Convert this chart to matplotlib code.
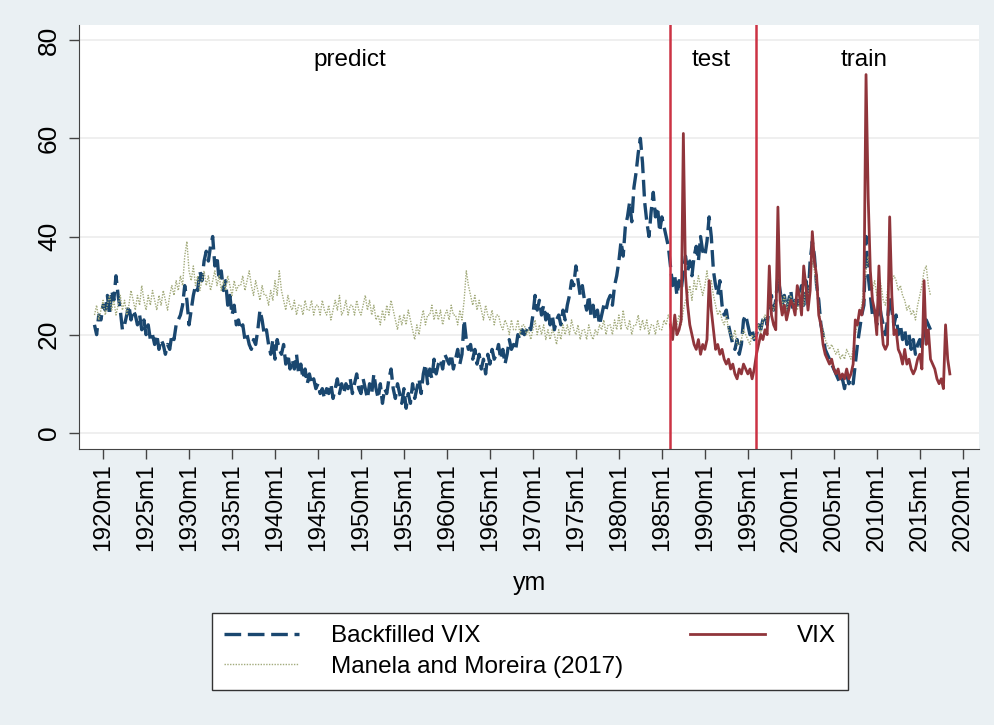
import numpy as np
import matplotlib
matplotlib.use("Agg")
import matplotlib.pyplot as plt

plt.rcParams['font.family'] = ['Liberation Sans', 'DejaVu Sans']

# quarterly readings
bf_start = 1919.0
bf_vals = [
    22, 20, 24, 23,  26, 25, 28, 24,  29, 27, 32, 28,  25, 21, 22, 24,  26, 23, 25, 24,   # 1919-1923
    22, 24, 21, 23,  20, 22, 19, 20,  18, 20, 17, 19,  18, 16, 18, 17,  20, 19, 22, 23,   # 1924-1928
    24, 26, 30, 27,  22, 25, 28, 30,  29, 33, 31, 35,  37, 35, 38, 40,  34, 36, 31, 33,   # 1929-1933
    29, 31, 26, 28,  24, 26, 22, 23,  21, 22, 19, 20,  18, 17, 19, 18,  21, 25, 23, 20,   # 1934-1938
    21, 18, 16, 19,  15, 19, 17, 16,  18, 14, 16, 13,  15, 13, 16, 12,  14, 11, 13, 10,   # 1939-1943
    12, 10, 11, 9,   10, 8, 9, 7,     9, 8, 10, 7,     9, 11, 8, 10,    8, 10, 9, 11,     # 1944-1948
    8, 10, 12, 9,    8, 11, 9, 7,     10, 8, 12, 9,    7, 10, 6, 9,     8, 11, 13, 9,     # 1949-1953
    7, 10, 8, 6,     9, 5, 8, 6,      10, 7, 9, 11,    8, 12, 14, 10,   13, 11, 15, 12,   # 1954-1958
    14, 15, 13, 16,  15, 14, 16, 13,  15, 17, 14, 16,  23, 19, 17, 18,  15, 17, 14, 16,   # 1959-1963
    13, 15, 12, 16,  14, 17, 15, 16,  18, 15, 17, 14,  16, 19, 17, 18,  17, 20, 19, 21,   # 1964-1968
    20, 21, 22, 21,  24, 28, 25, 27,  24, 26, 23, 25,  22, 24, 21, 23,  24, 22, 25, 23,   # 1969-1973
    26, 28, 31, 30,  34, 31, 28, 30,  27, 25, 28, 24,  26, 23, 25, 22,  24, 26, 25, 27,   # 1974-1978
    28, 26, 30, 32,  35, 39, 36, 42,  44, 47, 43, 50,  53, 57, 60, 55,  47, 43, 40, 45,   # 1979-1983
    49, 44, 46, 41,  44, 42, 40, 38,  34, 30, 32, 28,  31, 29, 33, 36,  33, 35, 32, 36,   # 1984-1988
    38, 35, 40, 37,  36, 39, 44, 40,  33, 30, 28, 31,  26, 24, 25, 22,  20, 18, 17, 19,   # 1989-1993
    16, 18, 23, 24,  22, 20, 21, 19,  20, 22, 21, 23,  24, 22, 26, 28,  25, 27, 32, 29,   # 1994-1998
    26, 28, 25, 27,  29, 25, 27, 26,  28, 30, 26, 31,  27, 35, 39, 36,  30, 27, 22, 20,   # 1999-2003
    17, 16, 15, 14,  13, 12, 11, 10,  11, 9, 12, 10,   11, 10, 14, 18,  21, 24, 26, 40,   # 2004-2008
    32, 28, 24, 25,  22, 27, 24, 22,  20, 23, 28, 25,  22, 24, 20, 22,  19, 21, 18, 20,   # 2009-2013
    17, 19, 16, 18,  19, 17, 21, 23,  22, 21,                                             # 2014-2016
]

mm_start = 1919.0
mm_vals = [
    24, 26, 23, 25,  27, 24, 26, 28,  25, 27, 24, 26,  28, 25, 27, 24,  26, 29, 27, 25,   # 1919-1923
    28, 26, 30, 27,  25, 28, 26, 29,  27, 25, 28, 26,  29, 27, 25, 28,  30, 28, 31, 29,   # 1924-1928
    32, 30, 36, 39,  33, 31, 34, 30,  32, 29, 31, 33,  30, 32, 29, 31,  33, 30, 32, 29,   # 1929-1933
    31, 29, 32, 30,  28, 31, 29, 30,  30, 32, 29, 31,  33, 30, 28, 31,  29, 27, 30, 28,   # 1934-1938
    28, 26, 29, 27,  31, 28, 33, 29,  27, 25, 28, 26,  25, 27, 24, 26,  26, 24, 27, 25,   # 1939-1943
    25, 27, 24, 26,  26, 24, 27, 25,  24, 26, 23, 25,  27, 25, 28, 24,  25, 27, 24, 26,   # 1944-1948
    26, 24, 27, 25,  24, 26, 28, 25,  27, 24, 26, 23,  24, 22, 25, 23,  26, 24, 27, 25,   # 1949-1953
    23, 21, 24, 22,  24, 22, 25, 23,  21, 19, 22, 20,  23, 25, 22, 24,  24, 26, 23, 25,   # 1954-1958
    23, 25, 22, 24,  25, 23, 26, 24,  24, 22, 25, 23,  27, 33, 30, 28,  26, 28, 25, 27,   # 1959-1963
    25, 23, 26, 24,  23, 25, 22, 24,  24, 22, 21, 23,  22, 20, 23, 21,  21, 23, 20, 22,   # 1964-1968
    22, 20, 21, 19,  21, 23, 20, 22,  20, 22, 19, 21,  19, 21, 20, 18,  21, 19, 22, 20,   # 1969-1973
    22, 20, 23, 21,  20, 22, 19, 21,  21, 19, 22, 20,  19, 21, 20, 22,  21, 23, 20, 22,   # 1974-1978
    22, 20, 23, 21,  24, 21, 25, 22,  21, 23, 20, 22,  22, 24, 21, 23,  21, 23, 20, 22,   # 1979-1983
    22, 20, 23, 21,  21, 23, 22, 24,  23, 21, 24, 22,  24, 22, 25, 27,  28, 30, 27, 31,   # 1984-1988
    29, 32, 30, 28,  30, 33, 29, 31,  28, 26, 24, 25,  23, 22, 24, 21,  20, 19, 21, 18,   # 1989-1993
    18, 19, 21, 20,  19, 18, 20, 19,  21, 22, 20, 23,  24, 22, 27, 26,  25, 27, 33, 29,   # 1994-1998
    26, 28, 25, 27,  28, 26, 27, 25,  27, 29, 26, 30,  27, 32, 35, 33,  29, 26, 22, 21,   # 1999-2003
    19, 18, 17, 18,  17, 16, 17, 15,  16, 15, 17, 16,  15, 17, 20, 22,  24, 26, 30, 33,   # 2004-2008
    36, 33, 29, 31,  28, 32, 30, 27,  26, 29, 33, 31,  32, 31, 29, 30,  28, 27, 25, 26,   # 2009-2013
    24, 25, 23, 26,  28, 30, 33, 34,  30, 28,                                             # 2014-2016
]

vix_start = 1986.0
vix_vals = [
    22, 19, 24, 20,  21, 23, 61, 32,  26, 22, 20, 18,  17, 19, 16, 18,  17, 19, 31, 25,   # 1986-1990
    21, 17, 18, 16,  17, 15, 14, 15,  13, 14, 12, 11,  13, 12, 14, 13,  12, 13, 11, 13,   # 1991-1995
    16, 18, 20, 19,  21, 20, 34, 24,  22, 21, 46, 27,  24, 26, 23, 25,  27, 26, 24, 30,   # 1996-2000
    28, 24, 34, 30,  25, 29, 41, 35,  32, 24, 22, 18,  16, 15, 14, 15,  13, 12, 13, 11,   # 2001-2005
    12, 11, 13, 11,  12, 14, 23, 22,  25, 24, 27, 73,  48, 33, 27, 25,  20, 34, 23, 18,   # 2006-2010
    17, 18, 44, 28,  20, 21, 17, 16,  14, 17, 14, 15,  13, 12, 13, 15,  16, 13, 31, 18,   # 2011-2015
    21, 15, 14, 13,  11, 10, 11, 9,   22, 15, 12,                                          # 2016-2018
]

split_years = [1986, 1996]
region_labels = ['predict', 'test', 'train']
region_x = [1948.7, 1990.7, 2008.5]
tick_years = list(range(1920, 2021, 5))
tick_labels = ['%dm1' % y for y in tick_years]

bf_x = bf_start + np.arange(len(bf_vals)) / 4.0
mm_x = mm_start + np.arange(len(mm_vals)) / 4.0
vix_x = vix_start + np.arange(len(vix_vals)) / 4.0

bg = '#eaf0f3'
fig = plt.figure(figsize=(9.95, 7.25), dpi=100, facecolor=bg)
ax = fig.add_axes([0.0794, 0.3807, 0.9046, 0.5848])
ax.set_facecolor('white')

ax.plot(bf_x, bf_vals, color='#1a476f', lw=2.4, ls=(0, (5, 2)), label='Backfilled VIX')
ax.plot(mm_x, mm_vals, color='#a3ab7c', lw=1.0, ls=(0, (1, 1)), label='Manela and Moreira (2017)')
ax.plot(vix_x, vix_vals, color='#90353b', lw=2.0, label='VIX')

for yr in split_years:
    ax.axvline(yr, color='#cc3344', lw=1.8)

for txt, xx in zip(region_labels, region_x):
    ax.text(xx, 76.0, txt, ha='center', va='center', fontsize=17.5)

ax.set_xlim(1917.2, 2021.9)
ax.set_ylim(-3.3, 83.1)
ax.set_yticks([0, 20, 40, 60, 80])
ax.set_yticklabels(['0', '20', '40', '60', '80'], rotation=90, va='center', fontsize=19)
ax.set_xticks(tick_years)
ax.set_xticklabels(tick_labels, rotation=90, fontsize=17.5)
ax.tick_params(direction='out', length=7, width=1, color='#444444')
ax.tick_params(axis='y', pad=6)
ax.grid(axis='y', color='#ececec', lw=1.2)
ax.set_axisbelow(True)
for s in ['top', 'right']:
    ax.spines[s].set_visible(False)
for s in ['left', 'bottom']:
    ax.spines[s].set_color('#444444')
ax.set_xlabel('ym', fontsize=18, labelpad=14)

h, l = ax.get_legend_handles_labels()
leg = fig.legend(h, l, ncol=2, loc='lower left',
                 bbox_to_anchor=(212 / 995, 1 - 690 / 725, 636 / 995, 80 / 725),
                 mode='expand', fontsize=17.5, frameon=True, fancybox=False,
                 framealpha=1.0, handlelength=3.1, handletextpad=1.3,
                 borderaxespad=0.0, borderpad=0.5, labelspacing=0.35)
leg.get_frame().set_edgecolor('#333333')
leg.get_frame().set_linewidth(1.0)

fig.savefig('out.png', dpi=100, facecolor=bg)
